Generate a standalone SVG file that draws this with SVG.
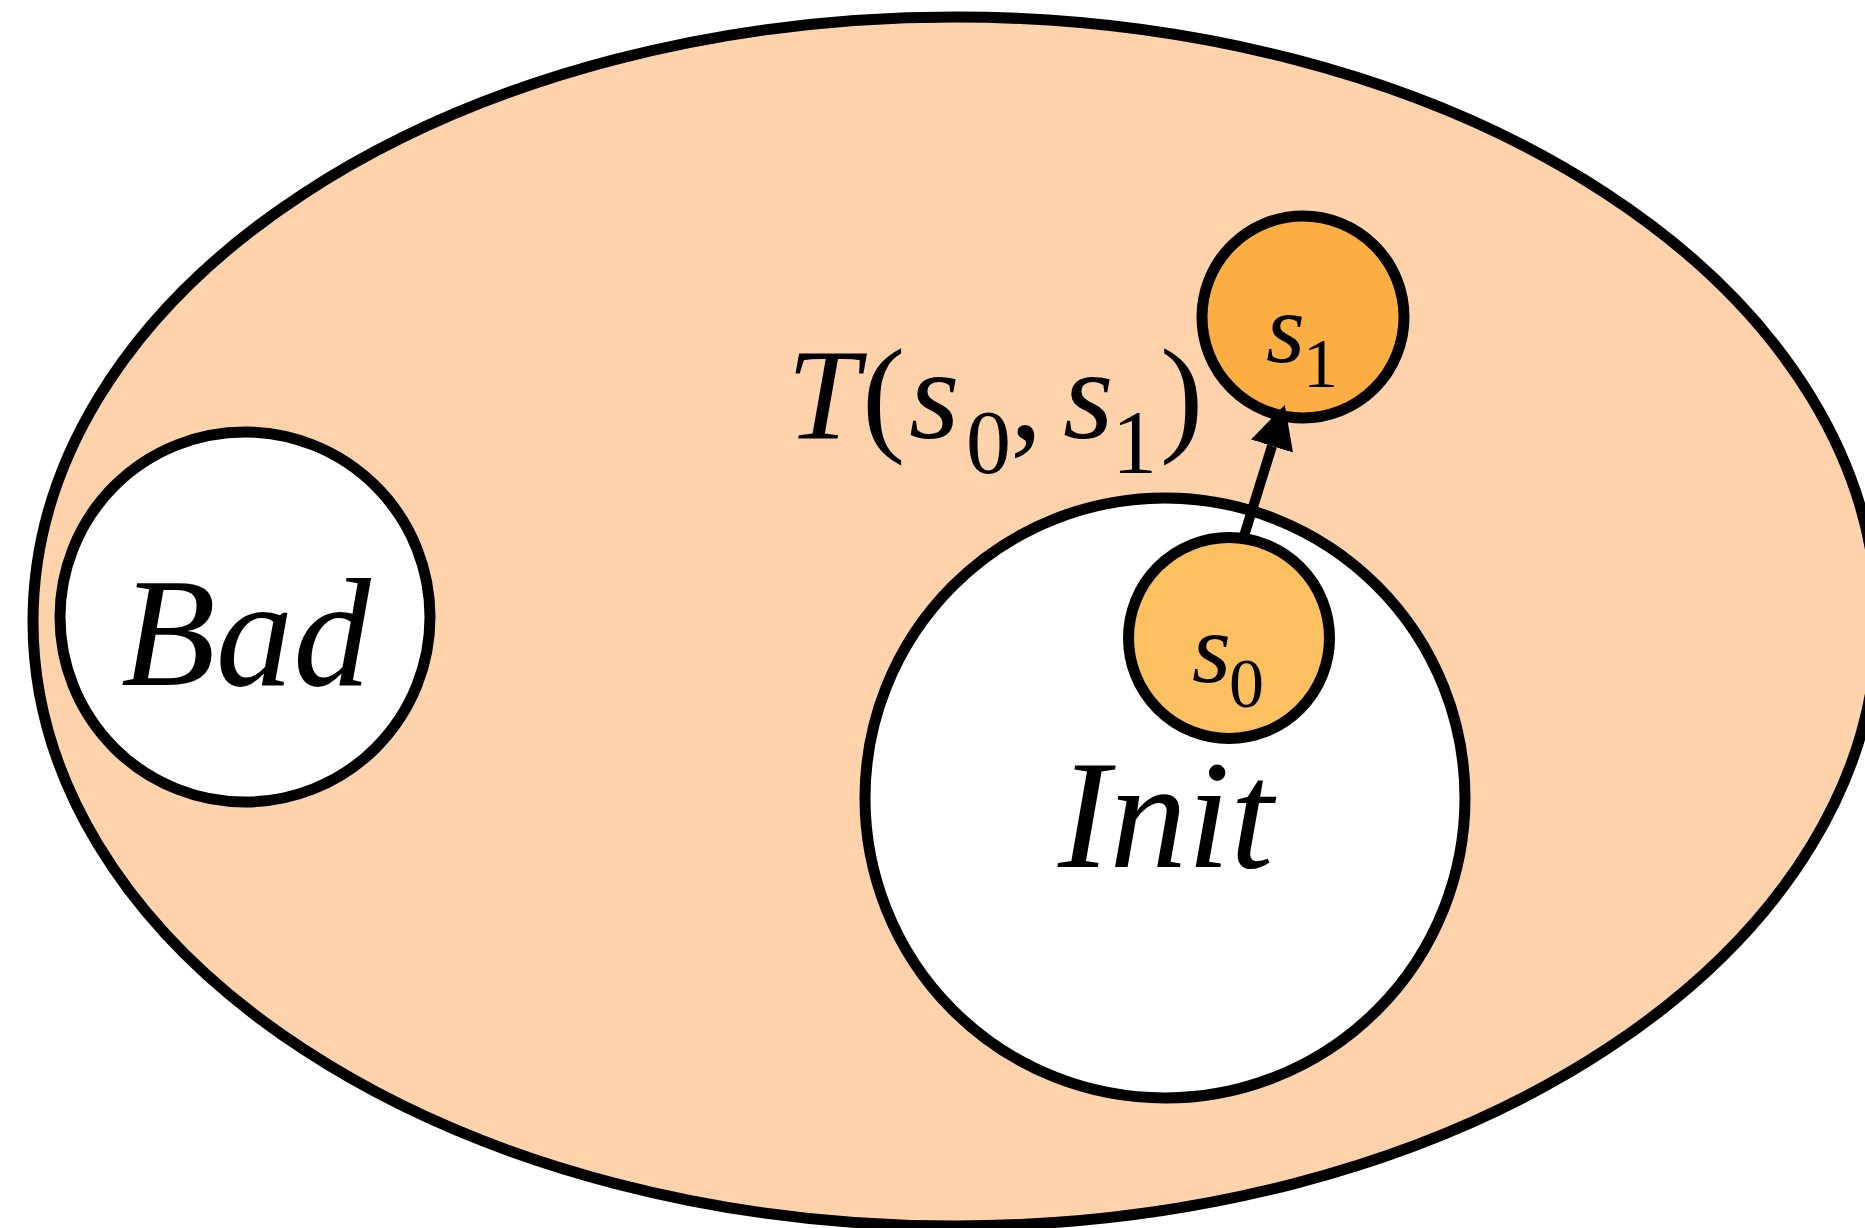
<svg xmlns="http://www.w3.org/2000/svg" width="1865" height="1228" viewBox="0 0 1865 1228">
<style>
.shape{stroke:#000;stroke-width:11}
.lbl{font-family:"Liberation Serif","Times New Roman",serif;fill:#000}
.it{font-style:italic}
.rm{font-style:normal}
</style>
<defs>
<marker id="ah" viewBox="0 0 43 44" refX="0" refY="22" markerWidth="43" markerHeight="44" markerUnits="userSpaceOnUse" orient="auto">
<path d="M0,0 L43,22 L0,44 Z" fill="#000"/>
</marker>
</defs>
<rect width="1865" height="1228" fill="#fff"/>
<g id="universe">
<ellipse class="shape" cx="955" cy="621.5" rx="922" ry="604.5" fill="#FED3AC"/>
</g>
<g id="bad">
<circle class="shape" cx="245" cy="617" r="185" fill="#fff"/>
<text class="lbl it" x="121" y="685" font-size="155">Bad</text>
</g>
<g id="init">
<circle class="shape" cx="1165" cy="798" r="300" fill="#fff"/>
<text class="lbl it" x="1058" y="867" font-size="155">Init</text>
</g>
<g id="s0">
<circle class="shape" cx="1229" cy="638" r="100.5" fill="#FDC060"/>
<text class="lbl" font-size="100"><tspan class="it" x="1192" y="682">s</tspan><tspan class="rm" x="1229" y="707" font-size="70">0</tspan></text>
</g>
<g id="s1">
<circle class="shape" cx="1303" cy="317" r="101" fill="#FDAE42"/>
<text class="lbl" font-size="100"><tspan class="it" x="1266" y="362">s</tspan><tspan class="rm" x="1303" y="387" font-size="70">1</tspan></text>
</g>
<g id="connectors">
<line x1="1244" y1="536" x2="1272" y2="446" stroke="#000" stroke-width="10" marker-end="url(#ah)"/>
</g>
<g id="label-T">
<text class="lbl" font-size="130"><tspan class="it" x="787" y="438">T</tspan><tspan class="rm" x="862" y="438">(</tspan><tspan class="it" x="909" y="438">s</tspan><tspan class="rm" x="966" y="473" font-size="90">0</tspan><tspan class="rm" x="1010" y="438">, </tspan><tspan class="it" x="1063" y="438">s</tspan><tspan class="rm" x="1112" y="473" font-size="90">1</tspan><tspan class="rm" x="1160" y="438">)</tspan></text>
</g>
</svg>
